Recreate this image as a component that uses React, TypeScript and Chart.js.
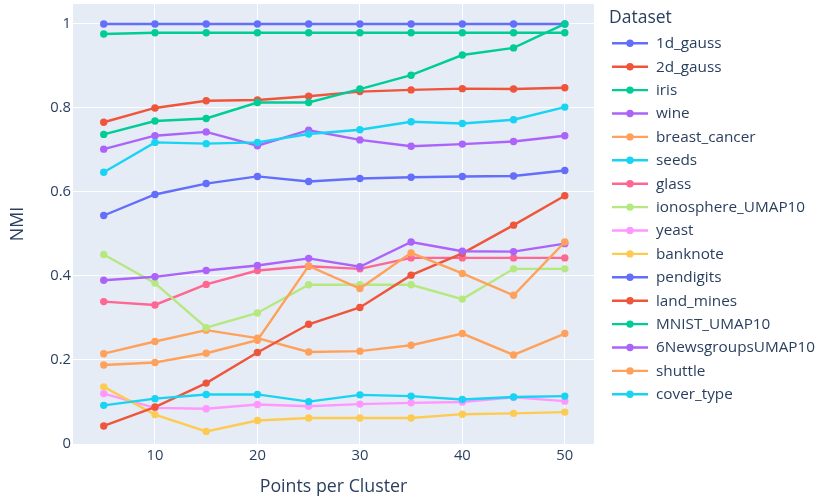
import React, { useEffect, useRef } from "react";
import { Chart, registerables } from "chart.js";

Chart.register(...registerables);

const xValues = [5, 10, 15, 20, 25, 30, 35, 40, 45, 50];
const xTicks = [10, 20, 30, 40, 50];
const yTicks = [0, 0.2, 0.4, 0.6, 0.8, 1];

const seriesNames = [
  "1d_gauss", "2d_gauss", "iris", "wine", "breast_cancer", "seeds", "glass",
  "ionosphere_UMAP10", "yeast", "banknote", "pendigits", "land_mines",
  "MNIST_UMAP10", "6NewsgroupsUMAP10", "shuttle", "cover_type",
];

const gauss1d = [1, 1, 1, 1, 1, 1, 1, 1, 1, 1];
const gauss2d = [0.766, 0.8, 0.817, 0.819, 0.828, 0.839, 0.843, 0.846, 0.845, 0.848];
const iris = [0.737, 0.769, 0.775, 0.813, 0.813, 0.845, 0.878, 0.926, 0.943, 1.0];
const wine = [0.702, 0.734, 0.743, 0.71, 0.747, 0.724, 0.709, 0.714, 0.72, 0.734];
const breastCancer = [0.215, 0.244, 0.271, 0.252, 0.219, 0.221, 0.235, 0.263, 0.212, 0.263];
const seeds = [0.647, 0.718, 0.715, 0.718, 0.738, 0.748, 0.767, 0.763, 0.772, 0.802];
const glass = [0.339, 0.331, 0.38, 0.413, 0.423, 0.417, 0.443, 0.443, 0.443, 0.443];
const ionosphere = [0.451, 0.383, 0.277, 0.312, 0.379, 0.379, 0.379, 0.345, 0.417, 0.417];
const yeast = [0.12, 0.086, 0.084, 0.094, 0.09, 0.095, 0.098, 0.1, 0.111, 0.102];
const banknote = [0.136, 0.07, 0.03, 0.056, 0.062, 0.062, 0.062, 0.071, 0.073, 0.076];
const pendigits = [0.544, 0.594, 0.62, 0.637, 0.625, 0.632, 0.635, 0.637, 0.638, 0.651];
const landMines = [0.043, 0.088, 0.145, 0.218, 0.285, 0.325, 0.402, 0.454, 0.521, 0.591];
const mnist = [0.976, 0.979, 0.979, 0.979, 0.979, 0.979, 0.979, 0.979, 0.979, 0.979];
const newsgroups = [0.39, 0.398, 0.413, 0.425, 0.442, 0.422, 0.481, 0.459, 0.458, 0.477];
const shuttle = [0.188, 0.194, 0.216, 0.247, 0.424, 0.37, 0.455, 0.406, 0.354, 0.481];
const coverType = [0.092, 0.108, 0.118, 0.118, 0.101, 0.117, 0.114, 0.106, 0.112, 0.114];

const seriesValues = [
  gauss1d, gauss2d, iris, wine, breastCancer, seeds, glass, ionosphere,
  yeast, banknote, pendigits, landMines, mnist, newsgroups, shuttle, coverType,
];

const palette = [
  "#636EFA", "#EF553B", "#00CC96", "#AB63FA", "#FFA15A",
  "#19D3F3", "#FF6692", "#B6E880", "#FF97FF", "#FECB52",
];

const FONT = '"Open Sans", "Noto Sans", sans-serif';
const TEXT = "#2a3f5f";

const bgPlugin = {
  id: "plotBg",
  beforeDraw(chart: any) {
    const { ctx, chartArea } = chart;
    ctx.save();
    ctx.fillStyle = "#E5ECF6";
    ctx.fillRect(chartArea.left, chartArea.top, chartArea.right - chartArea.left, chartArea.bottom - chartArea.top);
    ctx.restore();
  },
};

const legendPlugin = {
  id: "plotlyLegend",
  afterDraw(chart: any) {
    const ctx = chart.ctx;
    ctx.save();
    ctx.textBaseline = "middle";
    ctx.textAlign = "left";
    ctx.fillStyle = TEXT;
    ctx.font = `17.5px ${FONT}`;
    ctx.fillText("Dataset", 609, 18);
    ctx.font = `15.3px ${FONT}`;
    chart.data.datasets.forEach((ds: any, i: number) => {
      const y = 43.3 + i * 23.4;
      ctx.strokeStyle = ds.borderColor;
      ctx.lineWidth = 2.4;
      ctx.beginPath();
      ctx.moveTo(612, y);
      ctx.lineTo(648, y);
      ctx.stroke();
      ctx.fillStyle = ds.borderColor;
      ctx.beginPath();
      ctx.arc(630, y, 3.7, 0, Math.PI * 2);
      ctx.fill();
      ctx.fillStyle = TEXT;
      ctx.fillText(ds.label, 656, y + 0.5);
    });
    ctx.restore();
  },
};

export default function App() {
  const ref = useRef<HTMLCanvasElement | null>(null);

  useEffect(() => {
    if (!ref.current) return;
    const datasets = seriesNames.map((name, i) => {
      const color = palette[i % palette.length];
      return {
        label: name,
        data: xValues.map((x, j) => ({ x, y: seriesValues[i][j] })),
        borderColor: color,
        backgroundColor: color,
        pointBackgroundColor: color,
        pointBorderWidth: 0,
        pointRadius: 3.7,
        borderWidth: 2.4,
        tension: 0,
        order: seriesNames.length - i,
      };
    });

    const chart = new Chart(ref.current, {
      type: "line",
      data: { datasets },
      options: {
        animation: false,
        responsive: false,
        devicePixelRatio: 1,
        layout: { padding: { left: 0, top: 3, right: 224, bottom: 0 } },
        plugins: {
          legend: { display: false },
          tooltip: { enabled: false },
        },
        scales: {
          x: {
            type: "linear",
            min: 2,
            max: 52.85,
            afterBuildTicks: (scale: any) => {
              scale.ticks = xTicks.map((v) => ({ value: v }));
            },
            afterFit: (scale: any) => {
              scale.height = 54;
              scale.paddingLeft = 0;
              scale.paddingRight = 0;
            },
            grid: { color: "#ffffff", lineWidth: 1, drawTicks: false },
            border: { display: false },
            ticks: {
              color: TEXT,
              font: { family: FONT, size: 14.8 },
              padding: 3,
              maxRotation: 0,
            },
            title: {
              display: true,
              text: "Points per Cluster",
              color: TEXT,
              font: { family: FONT, size: 17.8 },
              padding: { top: 0, bottom: 0 },
            },
          },
          y: {
            type: "linear",
            min: 0,
            max: 1.0475,
            afterBuildTicks: (scale: any) => {
              scale.ticks = yTicks.map((v) => ({ value: v }));
            },
            afterFit: (scale: any) => {
              scale.width = 73;
              scale.paddingTop = 0;
              scale.paddingBottom = 0;
            },
            grid: { color: "#ffffff", lineWidth: 1, drawTicks: false },
            border: { display: false },
            ticks: {
              color: TEXT,
              font: { family: FONT, size: 14.8 },
              padding: 2,
              callback: (v: any) => String(Math.round(Number(v) * 10) / 10),
            },
            title: {
              display: true,
              text: "NMI",
              color: TEXT,
              font: { family: FONT, size: 17.8 },
              padding: { top: 7, bottom: 0 },
            },
          },
        },
      },
      plugins: [bgPlugin, legendPlugin],
    } as any);

    return () => chart.destroy();
  }, []);

  return (
    <div style={{ position: "fixed", left: 0, top: 0, width: 818, height: 498, background: "#ffffff" }}>
      <canvas ref={ref} width={818} height={498} style={{ display: "block", width: 818, height: 498 }} />
    </div>
  );
}
